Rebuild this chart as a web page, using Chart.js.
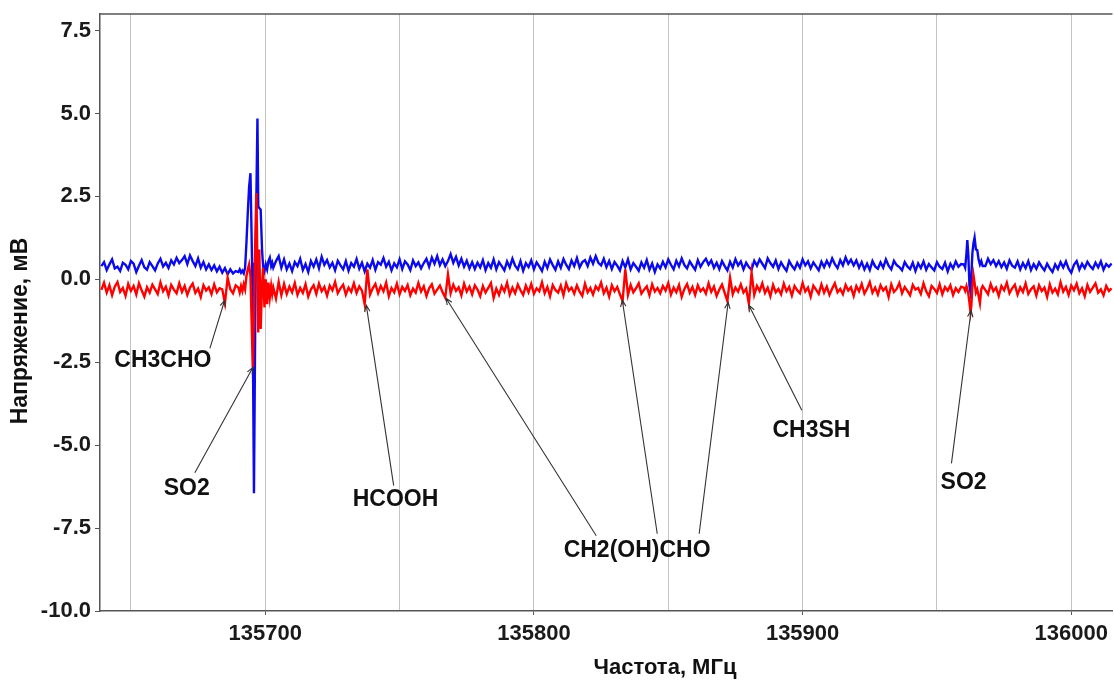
<!DOCTYPE html>
<html>
<head>
<meta charset="utf-8">
<script src="https://cdn.jsdelivr.net/npm/chart.js@4.4.1/dist/chart.umd.min.js"></script>
<style>
  html, body { margin: 0; padding: 0; background: #fff; }
  #wrap { width: 1114px; height: 682px; }
</style>
</head>
<body>
<div id="wrap"><canvas id="spectrum"></canvas></div>
<script>
// base scan, one reading per MHz starting at 135639 MHz
// null = covered by the finer detail readings below
const baseStartMHz = 135639;
const baseStepMHz = 1;

const blueBase = [
  0.40,0.52,0.28,0.45,0.60,0.33,0.38,0.25,0.50,0.44,
  0.30,0.55,0.47,0.22,0.41,0.58,0.36,0.29,0.52,0.40,
  0.27,0.48,0.62,0.39,0.50,0.34,0.57,0.45,0.65,0.49,
  0.58,0.70,0.46,0.72,0.55,0.40,0.63,0.35,0.52,0.30,
  0.45,0.28,0.42,0.24,0.38,0.20,0.34,0.15,0.30,0.18,
  0.25,null,null,null,null,null,null,null,null,null,
  null,null,null,null,null,0.55,0.70,0.35,0.60,0.30,
  0.48,0.25,0.52,0.40,0.62,0.28,0.46,0.22,0.55,0.38,
  0.60,0.33,0.68,0.44,0.58,0.36,0.50,0.27,0.56,0.42,
  0.30,0.55,0.26,0.49,0.38,0.61,0.32,0.50,0.24,0.47,
  0.35,0.58,0.29,0.52,0.44,0.64,0.38,0.53,0.27,0.48,
  0.36,0.60,0.31,0.54,0.45,0.28,0.57,0.40,0.51,0.33,
  0.49,0.62,0.38,0.66,0.47,0.70,0.43,0.60,0.40,0.55,
  0.76,0.50,0.68,0.42,0.62,0.38,0.56,0.33,0.52,0.31,
  0.50,0.36,0.58,0.28,0.49,0.35,0.60,0.30,0.52,0.40,
  0.27,0.54,0.36,0.62,0.41,0.30,0.55,0.26,0.49,0.37,
  0.57,0.30,0.51,0.39,0.25,0.53,0.34,0.60,0.43,0.29,
  0.54,0.35,0.61,0.44,0.31,0.57,0.40,0.64,0.36,0.52,
  0.58,0.40,0.66,0.47,0.70,0.50,0.42,0.62,0.37,0.55,
  0.31,0.52,0.41,0.27,0.55,0.36,0.60,0.30,0.49,0.38,
  0.26,0.51,0.35,0.58,0.29,0.48,0.22,0.45,0.33,0.53,
  0.36,0.60,0.44,0.30,0.56,0.39,0.63,0.43,0.33,0.54,
  0.41,0.29,0.58,0.38,0.52,0.62,0.44,0.57,0.35,0.50,
  0.31,0.55,0.40,0.27,0.53,0.36,0.61,0.42,0.54,0.30,
  0.50,0.37,0.29,0.56,0.41,0.60,0.47,0.34,0.63,0.49,
  0.38,0.57,0.31,0.51,0.37,0.26,0.55,0.41,0.30,0.50,
  0.35,0.60,0.42,0.54,0.33,0.51,0.39,0.27,0.53,0.37,
  0.56,0.40,0.63,0.46,0.34,0.58,0.42,0.66,0.47,0.59,
  0.42,0.57,0.35,0.52,0.30,0.47,0.28,0.55,0.39,0.32,
  0.51,0.35,0.60,0.41,0.30,0.56,0.43,0.37,0.27,0.52,
  0.39,0.31,0.50,0.25,0.48,0.34,0.54,0.29,0.46,0.36,
  0.27,0.52,0.38,0.31,0.50,0.24,0.47,0.33,0.54,0.38,
  0.46,null,null,null,null,null,null,null,null,0.40,
  0.62,0.46,0.58,0.40,0.55,0.37,0.51,0.32,0.57,0.41,
  0.35,0.54,0.30,0.49,0.34,0.55,0.28,0.46,0.32,0.51,
  0.38,0.27,0.47,0.33,0.22,0.45,0.31,0.52,0.36,0.54,
  0.32,0.20,0.44,0.55,0.29,0.47,0.34,0.53,0.40,0.31,
  0.50,0.36,0.54,0.29,0.46,0.38,0.48
];

const redBase = [
  -0.32,-0.10,-0.40,-0.18,-0.48,-0.22,-0.08,-0.38,-0.26,-0.50,
  -0.14,-0.35,-0.20,-0.46,-0.12,-0.33,-0.52,-0.24,-0.40,-0.16,
  -0.30,-0.44,-0.09,-0.36,-0.22,-0.49,-0.17,-0.31,-0.42,-0.12,
  -0.38,-0.20,-0.47,-0.25,-0.13,-0.41,-0.28,-0.53,-0.18,-0.34,
  -0.24,-0.45,-0.15,-0.39,-0.27,-0.30,-0.72,0.05,-0.30,-0.42,
  -0.18,null,null,null,null,null,null,null,null,null,
  null,null,null,null,null,-0.58,-0.08,-0.48,-0.14,-0.44,
  -0.22,-0.39,-0.11,-0.47,-0.26,-0.41,-0.15,-0.52,-0.30,-0.18,
  -0.44,-0.13,-0.36,-0.23,-0.49,-0.19,-0.33,-0.08,-0.42,-0.27,
  -0.16,-0.46,-0.25,-0.38,-0.12,-0.41,-0.21,-0.34,-0.75,0.30,
  -0.46,-0.27,-0.14,-0.42,-0.20,-0.36,-0.10,-0.51,-0.26,-0.39,
  -0.13,-0.45,-0.23,-0.35,-0.17,-0.48,-0.28,-0.40,-0.11,-0.37,
  -0.21,-0.50,-0.27,-0.15,-0.43,-0.31,-0.19,-0.39,-0.55,0.15,
  -0.42,-0.16,-0.35,-0.24,-0.48,-0.13,-0.37,-0.22,-0.45,-0.18,
  -0.31,-0.51,-0.20,-0.40,-0.26,-0.11,-0.56,-0.28,-0.47,-0.21,
  -0.37,-0.10,-0.46,-0.25,-0.42,-0.16,-0.33,-0.47,-0.19,-0.39,
  -0.14,-0.44,-0.27,-0.36,-0.09,-0.42,-0.23,-0.51,-0.17,-0.32,
  -0.40,-0.19,-0.48,-0.12,-0.34,-0.25,-0.43,-0.18,-0.37,-0.50,
  -0.13,-0.39,-0.26,-0.46,-0.21,-0.32,-0.10,-0.42,-0.25,-0.52,
  -0.18,-0.36,-0.23,-0.45,-0.65,0.30,-0.47,-0.17,-0.39,-0.27,
  -0.12,-0.43,-0.31,-0.21,-0.48,-0.15,-0.37,-0.26,-0.42,-0.20,
  -0.34,-0.11,-0.46,-0.25,-0.39,-0.17,-0.53,-0.29,-0.14,-0.40,
  -0.23,-0.47,-0.18,-0.36,-0.27,-0.43,-0.12,-0.38,-0.22,-0.50,
  -0.31,-0.16,-0.41,-0.66,0.05,-0.45,-0.25,-0.37,-0.15,-0.40,
  -0.28,-0.74,0.20,-0.47,-0.20,-0.35,-0.12,-0.41,-0.25,-0.51,
  -0.17,-0.39,-0.29,-0.45,-0.13,-0.36,-0.23,-0.49,-0.20,-0.33,
  -0.42,-0.11,-0.37,-0.25,-0.52,-0.19,-0.31,-0.44,-0.15,-0.40,
  -0.22,-0.47,-0.28,-0.12,-0.39,-0.29,-0.45,-0.17,-0.34,-0.24,
  -0.50,-0.20,-0.36,-0.14,-0.43,-0.28,-0.08,-0.40,-0.25,-0.46,
  -0.18,-0.34,-0.24,-0.53,-0.15,-0.38,-0.29,-0.11,-0.42,-0.23,
  -0.35,-0.48,-0.17,-0.31,-0.26,-0.44,-0.12,-0.36,-0.51,-0.20,
  -0.29,-0.41,-0.15,-0.45,-0.23,-0.34,-0.18,-0.47,-0.27,-0.38,
  -0.22,null,null,null,null,null,null,null,null,-0.32,
  -0.45,-0.14,-0.36,-0.25,-0.50,-0.20,-0.33,-0.10,-0.42,-0.27,
  -0.16,-0.46,-0.24,-0.38,-0.12,-0.44,-0.30,-0.21,-0.49,-0.18,
  -0.35,-0.25,-0.53,-0.15,-0.40,-0.28,-0.45,-0.09,-0.37,-0.23,
  -0.47,-0.19,-0.33,-0.13,-0.42,-0.27,-0.51,-0.17,-0.38,-0.25,
  -0.12,-0.40,-0.30,-0.48,-0.20,-0.35,-0.27
];

// finer readings across the two SO2 lines
const detailFreq = [
  135690,135690.5,135691,135691.5,135692,135692.5,135693,135693.5,135694,135694.5,
  135695.1,135695.4,135695.8,135696.3,135696.7,135697.1,135697.4,135697.8,135698.3,135698.8,
  135699.2,135699.7,135700.2,135700.7,135701.2,135701.7,135702.2,135702.6,135703,
  135960,135960.5,135961,135961.3,135961.7,135962.1,135962.5,135962.8,135963.2,135963.6,
  135964,135964.5,135965,135965.5,135966,135966.5,135967
];
const blueDetail = [
  0.22,0.30,0.20,0.26,0.18,0.35,1.10,2.00,2.80,3.20,
  0.50,-2.00,-6.45,-1.00,2.50,4.85,2.20,2.15,2.10,0.90,
  0.40,0.25,0.45,0.30,0.55,0.65,0.40,0.50,0.35,
  0.45,0.35,0.80,1.18,0.70,-0.20,-0.40,0.10,0.80,1.10,
  1.26,0.90,0.88,0.60,0.45,0.55,0.40
];
const redDetail = [
  -0.25,-0.40,-0.20,-0.35,-0.15,-0.30,0.10,0.30,0.45,0.10,
  -1.80,-2.65,-1.00,1.20,2.60,0.50,-1.60,0.90,-1.50,-0.20,
  0.35,-0.85,0.00,-0.75,-0.10,-0.55,-0.20,-0.45,-0.25,
  -0.25,-0.35,-0.20,-0.30,-0.45,-0.70,-0.99,-0.80,-0.20,0.12,
  -0.10,-0.40,-0.30,-0.50,-0.72,-0.30,-0.20
];

const yTickValues = [-10, -7.5, -5, -2.5, 0, 2.5, 5, 7.5];
const xGridValues = [135650, 135700, 135750, 135800, 135850, 135900, 135950, 136000];
const xLabelValues = [135700, 135800, 135900, 136000];

// line labels: text position and arrow start/tip, in data units
const lineLabels = [
  { text: 'CH3CHO', at: [135661.9, -2.44], arrows: [[[135679.4, -2.08], [135684.9, -0.63]]] },
  { text: 'SO2', at: [135670.8, -6.31], arrows: [[[135673.8, -5.83], [135695.4, -2.66]]] },
  { text: 'HCOOH', at: [135748.5, -6.64], arrows: [[[135747.8, -6.22], [135737.6, -0.78]]] },
  { text: 'CH2(OH)CHO', at: [135838.4, -8.18], arrows: [
      [[135823.2, -7.73], [135767.3, -0.57]],
      [[135845.9, -7.67], [135832.9, -0.63]],
      [[135861.5, -7.67], [135872.3, -0.69]]] },
  { text: 'CH3SH', at: [135903.3, -4.56], arrows: [[[135899.7, -3.95], [135880.0, -0.78]]] },
  { text: 'SO2', at: [135959.9, -6.13], arrows: [[[135955.4, -5.55], [135962.7, -0.94]]] }
];

function buildPoints(base, detail) {
  const pts = [];
  base.forEach((v, i) => {
    if (v !== null) pts.push({ x: baseStartMHz + i * baseStepMHz, y: v });
  });
  detailFreq.forEach((f, i) => pts.push({ x: f, y: detail[i] }));
  return pts.sort((a, b) => a.x - b.x);
}

const FONT = '"Liberation Sans", Arial, sans-serif';

const extras = {
  id: 'extras',
  afterDatasetsDraw(chart) {
    const { ctx, chartArea, scales: { x, y } } = chart;
    ctx.save();
    // top frame line
    ctx.strokeStyle = '#555';
    ctx.lineWidth = 1.5;
    ctx.beginPath();
    ctx.moveTo(chartArea.left, chartArea.top);
    ctx.lineTo(chartArea.right, chartArea.top);
    ctx.stroke();

    ctx.strokeStyle = '#333';
    ctx.lineWidth = 1.1;
    lineLabels.forEach(l => {
      l.arrows.forEach(([from, to]) => {
        const x0 = x.getPixelForValue(from[0]), y0 = y.getPixelForValue(from[1]);
        const x1 = x.getPixelForValue(to[0]), y1 = y.getPixelForValue(to[1]);
        ctx.beginPath();
        ctx.moveTo(x0, y0);
        ctx.lineTo(x1, y1);
        const ang = Math.atan2(y1 - y0, x1 - x0);
        const len = 7, spread = 0.4;
        ctx.moveTo(x1 - len * Math.cos(ang - spread), y1 - len * Math.sin(ang - spread));
        ctx.lineTo(x1, y1);
        ctx.lineTo(x1 - len * Math.cos(ang + spread), y1 - len * Math.sin(ang + spread));
        ctx.stroke();
      });
      ctx.fillStyle = '#111';
      ctx.font = 'bold 23px ' + FONT;
      ctx.textAlign = 'center';
      ctx.textBaseline = 'middle';
      ctx.fillText(l.text, x.getPixelForValue(l.at[0]), y.getPixelForValue(l.at[1]));
    });

    // axis titles
    ctx.fillStyle = '#111';
    ctx.font = 'bold 22px ' + FONT;
    ctx.textAlign = 'center';
    ctx.textBaseline = 'middle';
    ctx.fillText('Частота, МГц', 665, 668);
    ctx.translate(21, 331);
    ctx.rotate(-Math.PI / 2);
    ctx.font = 'bold 23px ' + FONT;
    ctx.fillText('Напряжение, мВ', 0, 0);
    ctx.restore();
  }
};

new Chart(document.getElementById('spectrum'), {
  type: 'line',
  data: {
    datasets: [
      {
        label: 'red',
        data: buildPoints(redBase, redDetail),
        borderColor: 'rgb(255, 0, 0)',
        borderWidth: 2.4,
        pointRadius: 0,
        order: 0
      },
      {
        label: 'blue',
        data: buildPoints(blueBase, blueDetail),
        borderColor: 'rgb(10, 10, 235)',
        borderWidth: 2.4,
        pointRadius: 0,
        order: 1
      }
    ]
  },
  options: {
    responsive: true,
    maintainAspectRatio: false,
    animation: false,
    layout: { padding: { top: 14, right: 0, left: 0, bottom: 0 } },
    plugins: { legend: { display: false }, tooltip: { enabled: false } },
    scales: {
      x: {
        type: 'linear',
        min: 135638.5,
        max: 136015.3,
        afterBuildTicks: s => { s.ticks = xGridValues.map(v => ({ value: v })); },
        afterFit: s => { s.height = 71; },
        ticks: {
          autoSkip: false,
          maxRotation: 0,
          padding: 6,
          color: '#1a1a1a',
          font: { family: FONT, size: 22, weight: 'bold' },
          callback: v => (xLabelValues.includes(v) ? String(v) : '')
        },
        grid: {
          color: '#c4c4c4',
          lineWidth: 1,
          tickLength: 4,
          tickColor: c => (c.tick && xLabelValues.includes(c.tick.value) ? '#555' : 'rgba(0,0,0,0)')
        },
        border: { color: '#555', width: 1.5 }
      },
      y: {
        min: -10,
        max: 8,
        afterBuildTicks: s => { s.ticks = yTickValues.map(v => ({ value: v })); },
        afterFit: s => { s.width = 100; },
        ticks: {
          padding: 4,
          color: '#1a1a1a',
          font: { family: FONT, size: 22, weight: 'bold', lineHeight: 0.9 },
          callback: v => v.toFixed(1)
        },
        grid: { drawOnChartArea: false, tickLength: 5, color: '#555' },
        border: { color: '#555', width: 1.5 }
      }
    }
  },
  plugins: [extras]
});
</script>
</body>
</html>
